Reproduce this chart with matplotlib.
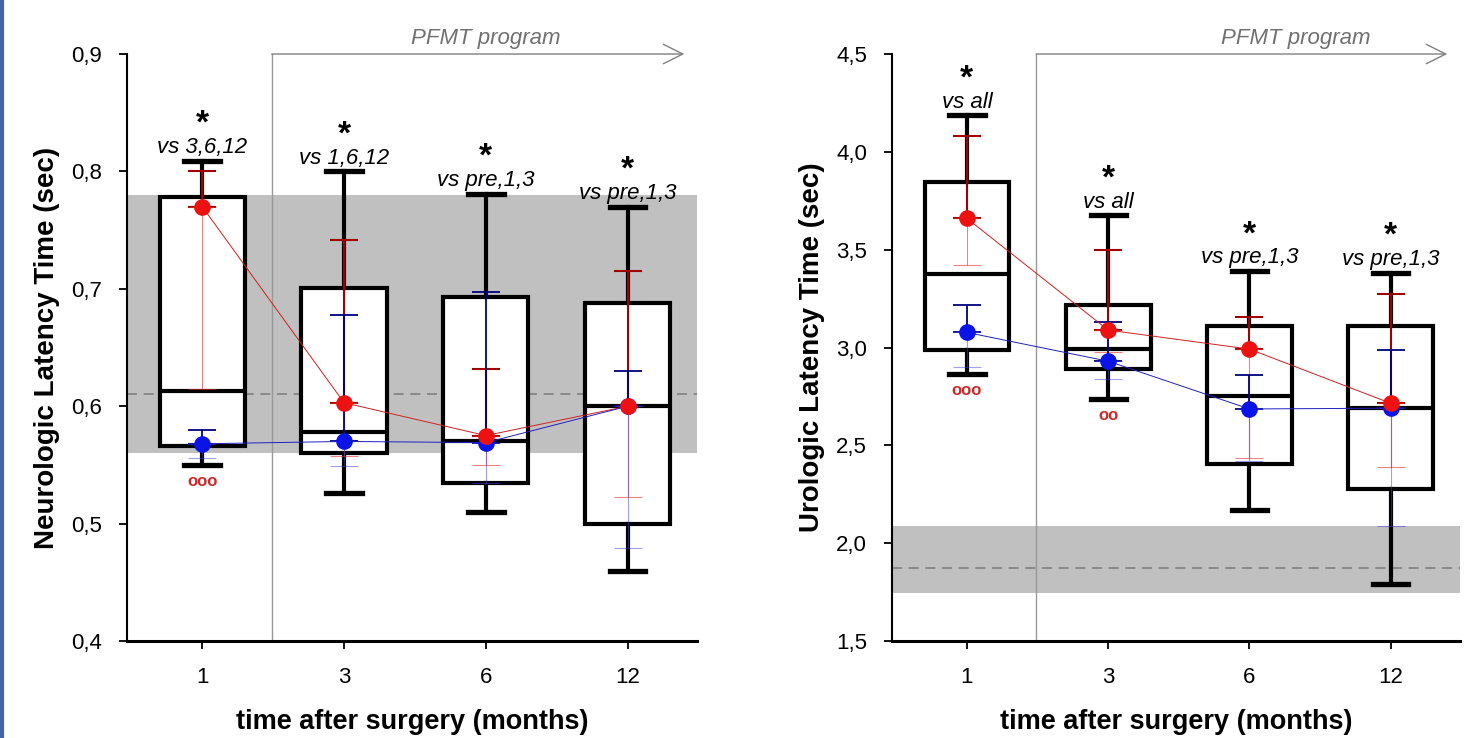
import numpy as np
import matplotlib
matplotlib.use('Agg')
import matplotlib.pyplot as plt
from matplotlib.lines import Line2D

months = ['1', '3', '6', '12']

# neurologic latency (left panel)
neuro_whislo = [0.550, 0.526, 0.510, 0.460]
neuro_q1 = [0.566, 0.560, 0.535, 0.500]
neuro_med = [0.613, 0.578, 0.570, 0.600]
neuro_q3 = [0.778, 0.701, 0.693, 0.688]
neuro_whishi = [0.809, 0.800, 0.781, 0.770]
neuro_red_mean = [0.770, 0.603, 0.575, 0.600]
neuro_red_hi = [0.800, 0.742, 0.632, 0.715]
neuro_red_lo = [0.615, 0.558, 0.550, 0.523]
neuro_blue_mean = [0.568, 0.570, 0.569, 0.600]
neuro_blue_hi = [0.580, 0.678, 0.697, 0.630]
neuro_blue_lo = [0.556, 0.549, 0.535, 0.479]
neuro_band = [0.56, 0.78]
neuro_ref = 0.61
neuro_sig = ['vs 3,6,12', 'vs 1,6,12', 'vs pre,1,3', 'vs pre,1,3']
neuro_marks = ['ooo', '', '', '']
neuro_yticks = [0.4, 0.5, 0.6, 0.7, 0.8, 0.9]

# urologic latency (right panel)
uro_whislo = [2.865, 2.737, 2.172, 1.791]
uro_q1 = [2.989, 2.890, 2.403, 2.279]
uro_med = [3.374, 2.992, 2.751, 2.692]
uro_q3 = [3.846, 3.216, 3.111, 3.108]
uro_whishi = [4.186, 3.675, 3.391, 3.383]
uro_red_mean = [3.660, 3.089, 2.992, 2.715]
uro_red_hi = [4.082, 3.500, 3.157, 3.276]
uro_red_lo = [3.420, 2.977, 2.435, 2.390]
uro_blue_mean = [3.077, 2.930, 2.686, 2.690]
uro_blue_hi = [3.216, 3.128, 2.861, 2.987]
uro_blue_lo = [2.900, 2.840, 2.420, 2.087]
uro_band = [1.744, 2.089]
uro_ref = 1.875
uro_sig = ['vs all', 'vs all', 'vs pre,1,3', 'vs pre,1,3']
uro_marks = ['ooo', 'oo', '', '']
uro_yticks = [1.5, 2.0, 2.5, 3.0, 3.5, 4.0, 4.5]

plt.rcParams['font.family'] = ['Liberation Sans', 'DejaVu Sans']
plt.rcParams['axes.unicode_minus'] = False


def half_errbar(ax, x, y0, y1, color, lw, alpha, z):
    mid = [(a + b) / 2 for a, b in zip(y0, y1)]
    half = np.abs(np.subtract(y1, y0)) / 2
    ax.errorbar(x, mid, yerr=[half, half], fmt='none', ecolor=color, elinewidth=lw,
                capsize=10, capthick=lw, alpha=alpha, zorder=z)


def panel(ax, whislo, q1, med, q3, whishi, rmean, rhi, rlo, bmean, bhi, blo,
          band, ref, sig, marks, yticks, ylabel, pfmt_x):
    pos = np.arange(len(months))
    ymin, ymax = yticks[0], yticks[-1]
    ax.set_xlim(-0.53, 3.49)
    ax.set_ylim(ymin, ymax)

    ax.axhspan(band[0], band[1], color='#c0c0c0', lw=0, zorder=0)
    ax.axhline(ref, color='#808080', lw=1.2, ls=(0, (6, 4)), zorder=0.5)
    ax.axvline(0.49, color='#999999', lw=1, zorder=1)

    stats = [dict(whislo=whislo[i], q1=q1[i], med=med[i], q3=q3[i],
                  whishi=whishi[i], fliers=[]) for i in range(len(months))]
    ax.bxp(stats, positions=pos, widths=0.6, capwidths=0.25, patch_artist=True,
           showfliers=False,
           boxprops=dict(facecolor='white', edgecolor='black', lw=3),
           whiskerprops=dict(color='black', lw=3),
           capprops=dict(color='black', lw=3.8),
           medianprops=dict(color='black', lw=3), zorder=2)

    # means with error bars (upper half darker, lower half lighter)
    half_errbar(ax, pos, rmean, rhi, '#a00000', 1.5, 1.0, 4)
    half_errbar(ax, pos, rlo, rmean, '#e03030', 0.8, 0.6, 4)
    half_errbar(ax, pos, bmean, bhi, '#00007a', 1.3, 1.0, 4)
    half_errbar(ax, pos, blo, bmean, '#4040e0', 0.8, 0.5, 4)
    ax.plot(pos, rmean, color='#d02020', lw=0.7, zorder=5)
    ax.plot(pos, bmean, color='#2020c0', lw=0.7, zorder=5)
    ax.plot(pos, bmean, 'o', color='#0a14e6', ms=12, mec='none', zorder=6)
    ax.plot(pos, rmean, 'o', color='#ee1111', ms=12, mec='none', zorder=7)

    for i in range(len(months)):
        ax.annotate(sig[i], (pos[i], whishi[i]), xytext=(0, 2), textcoords='offset points',
                    ha='center', va='bottom', fontsize=16, style='italic', zorder=8)
        ax.annotate('*', (pos[i], whishi[i]), xytext=(0, 15), textcoords='offset points',
                    ha='center', va='bottom', fontsize=24, fontweight='bold', zorder=8)
        if marks[i]:
            ax.annotate(marks[i], (pos[i], whislo[i]), xytext=(0, -12),
                        textcoords='offset points', ha='center', va='center',
                        fontsize=12, fontweight='bold', color='#cc2a2a')

    # PFMT program arrow
    ax.annotate('', xy=(3.40, ymax), xytext=(0.49, ymax), annotation_clip=False,
                arrowprops=dict(arrowstyle='->,head_length=1.4,head_width=0.7',
                                color='#808080', lw=1, shrinkA=0, shrinkB=0))
    ax.annotate('PFMT program', (pfmt_x, ymax), xytext=(0, 11.5), textcoords='offset points',
                ha='center', va='center', fontsize=16, style='italic', color='#707070',
                annotation_clip=False)

    ax.set_xticks(pos)
    ax.set_xticklabels(months)
    ax.set_yticks(yticks)
    ax.set_yticklabels([f'{v:.1f}'.replace('.', ',') for v in yticks])
    ax.tick_params(axis='both', labelsize=16, length=6, width=1.3, direction='out')
    ax.tick_params(axis='y', pad=12)
    ax.tick_params(axis='x', pad=13)
    for s in ['top', 'right']:
        ax.spines[s].set_visible(False)
    ax.spines['left'].set_linewidth(1.5)
    ax.spines['bottom'].set_linewidth(2.2)
    ax.set_xlabel('time after surgery (months)', fontsize=19.5, fontweight='bold',
                  labelpad=14.5)
    ax.set_ylabel(ylabel, fontsize=20, fontweight='bold', labelpad=8)


fig = plt.figure(figsize=(14.81, 7.38), dpi=100)
ax1 = fig.add_axes([0.0858, 0.1314, 0.3849, 0.7954])
ax2 = fig.add_axes([0.6023, 0.1314, 0.3835, 0.7954])

panel(ax1, neuro_whislo, neuro_q1, neuro_med, neuro_q3, neuro_whishi,
      neuro_red_mean, neuro_red_hi, neuro_red_lo,
      neuro_blue_mean, neuro_blue_hi, neuro_blue_lo,
      neuro_band, neuro_ref, neuro_sig, neuro_marks, neuro_yticks,
      'Neurologic Latency Time (sec)', 2.0)
panel(ax2, uro_whislo, uro_q1, uro_med, uro_q3, uro_whishi,
      uro_red_mean, uro_red_hi, uro_red_lo,
      uro_blue_mean, uro_blue_hi, uro_blue_lo,
      uro_band, uro_ref, uro_sig, uro_marks, uro_yticks,
      'Urologic Latency Time (sec)', 2.33)

# blue frame edge on the left
fig.add_artist(Line2D([0.0015, 0.0015], [0, 1], color='#3f66a8', lw=3,
                      transform=fig.transFigure))

fig.savefig('out.png', dpi=100)
